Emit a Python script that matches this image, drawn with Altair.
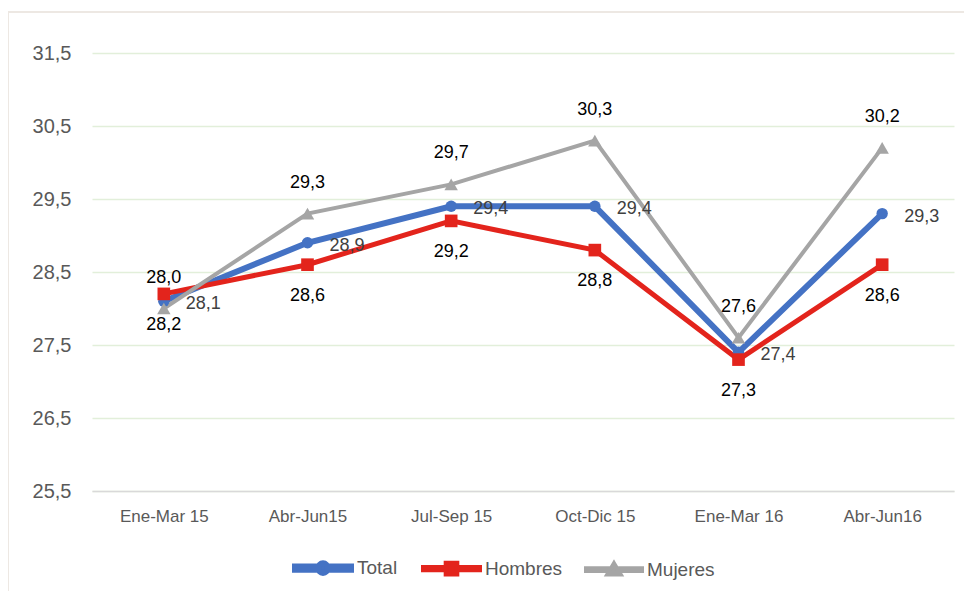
import altair as alt
import pandas as pd

categories = ["Ene-Mar 15", "Abr-Jun15", "Jul-Sep 15", "Oct-Dic 15", "Ene-Mar 16", "Abr-Jun16"]
series_names = ["Total", "Hombres", "Mujeres"]
total = [28.1, 28.9, 29.4, 29.4, 27.4, 29.3]
hombres = [28.2, 28.6, 29.2, 28.8, 27.3, 28.6]
mujeres = [28.0, 29.3, 29.7, 30.3, 27.6, 30.2]
y_ticks = [25.5, 26.5, 27.5, 28.5, 29.5, 30.5, 31.5]

rows = []
for s, vals in zip(series_names, [total, hombres, mujeres]):
    for c, v in zip(categories, vals):
        rows.append({"serie": s, "periodo": c, "valor": v, "orden": series_names.index(s)})
df = pd.DataFrame(rows)

colors = ["#4472C4", "#E3241C", "#A5A5A5"]
FONT = "Liberation Sans"

x_enc = alt.X("periodo:N", sort=categories, title=None,
              scale=alt.Scale(type="point", padding=0.5),
              axis=alt.Axis(labelAngle=0, labelFontSize=17, labelColor="#595959",
                            labelFont=FONT, ticks=False, domainColor="#D9D9D9",
                            domainWidth=1.5, labelPadding=17, grid=False))
y_enc = alt.Y("valor:Q", title=None,
              scale=alt.Scale(domain=[25.5, 31.5], nice=False, zero=False),
              axis=alt.Axis(values=y_ticks, labelFontSize=20, labelColor="#595959",
                            labelFont=FONT, ticks=False, domain=False,
                            gridColor="#E2EFDA", gridWidth=1.5, labelPadding=21,
                            labelExpr="replace(format(datum.value, '.1f'), '.', ',')"))

color_scale = alt.Scale(domain=series_names, range=colors)

p_line = "M-1,-{t}H-{g}V{t}H-1Z M{g},-{t}H1V{t}H{g}Z "
sym_total = p_line.format(t=0.055, g=0.15) + "M0.17,0A0.17,0.17 0 1,1 -0.17,0A0.17,0.17 0 1,1 0.17,0Z"
sym_homb = p_line.format(t=0.04, g=0.18) + "M-0.19,-0.19H0.19V0.19H-0.19Z"
sym_muj = p_line.format(t=0.045, g=0.18) + "M0,-0.23L0.24,0.17L-0.24,0.17Z"

legend = alt.Legend(
    title=None, orient="none", direction="horizontal", legendX=200, legendY=484,
    labelFontSize=19, labelColor="#595959", labelFont=FONT, symbolSize=3136,
    labelOffset=3, columnPadding=15, symbolStrokeWidth=0,
)

base = alt.Chart(df).encode(x=x_enc, y=y_enc)

lines = base.mark_line().encode(
    color=alt.Color("serie:N", scale=color_scale, legend=legend),
    strokeWidth=alt.StrokeWidth("serie:N", scale=alt.Scale(domain=series_names, range=[6, 4, 4.5]), legend=None),
    order=alt.Order("orden:Q"),
    detail="serie:N",
)

def pts(serie, shape, size):
    return base.transform_filter(alt.datum.serie == serie).mark_point(
        filled=True, opacity=1, shape=shape, size=size
    ).encode(color=alt.Color("serie:N", scale=color_scale, legend=legend))

pts_total = pts("Total", "circle", 130)
pts_homb = pts("Hombres", "square", 160)
pts_muj = pts("Mujeres", "triangle-up", 180)

legend_layer = base.transform_filter("false").mark_point(filled=True, opacity=1).encode(
    color=alt.Color("serie:N", scale=color_scale, legend=legend),
    shape=alt.Shape("serie:N", scale=alt.Scale(domain=series_names, range=[sym_total, sym_homb, sym_muj]), legend=legend),
)

def labels(serie, dx, dy, color, align):
    return base.transform_filter(alt.datum.serie == serie).transform_calculate(
        lab="replace(format(datum.valor, '.1f'), '.', ',')"
    ).mark_text(dx=dx, dy=dy, align=align, baseline="middle", fontSize=18,
                font=FONT, color=color).encode(text="lab:N")

lab_total = labels("Total", 22, 3, "#404040", "left")
lab_homb = labels("Hombres", 0, 31, "#000000", "center")
lab_muj = labels("Mujeres", 0, -31, "#000000", "center")

frame = alt.Chart(pd.DataFrame({"a": [0]})).mark_rect(
    fill=None, stroke="#EDE8E3", strokeWidth=2
).encode(x=alt.value(-84), x2=alt.value(900), y=alt.value(-41), y2=alt.value(560))

chart = alt.layer(frame, lines, pts_total, pts_homb, pts_muj, legend_layer,
                  lab_total, lab_homb, lab_muj).properties(
    width=862, height=438,
    autosize=alt.AutoSizeParams(type="none"),
    padding={"left": 84, "top": 45, "right": 10, "bottom": 100},
).configure(background="white", view=alt.ViewConfig(stroke=None))

chart.save("out.html", embed_options={"renderer": "svg", "actions": False})
